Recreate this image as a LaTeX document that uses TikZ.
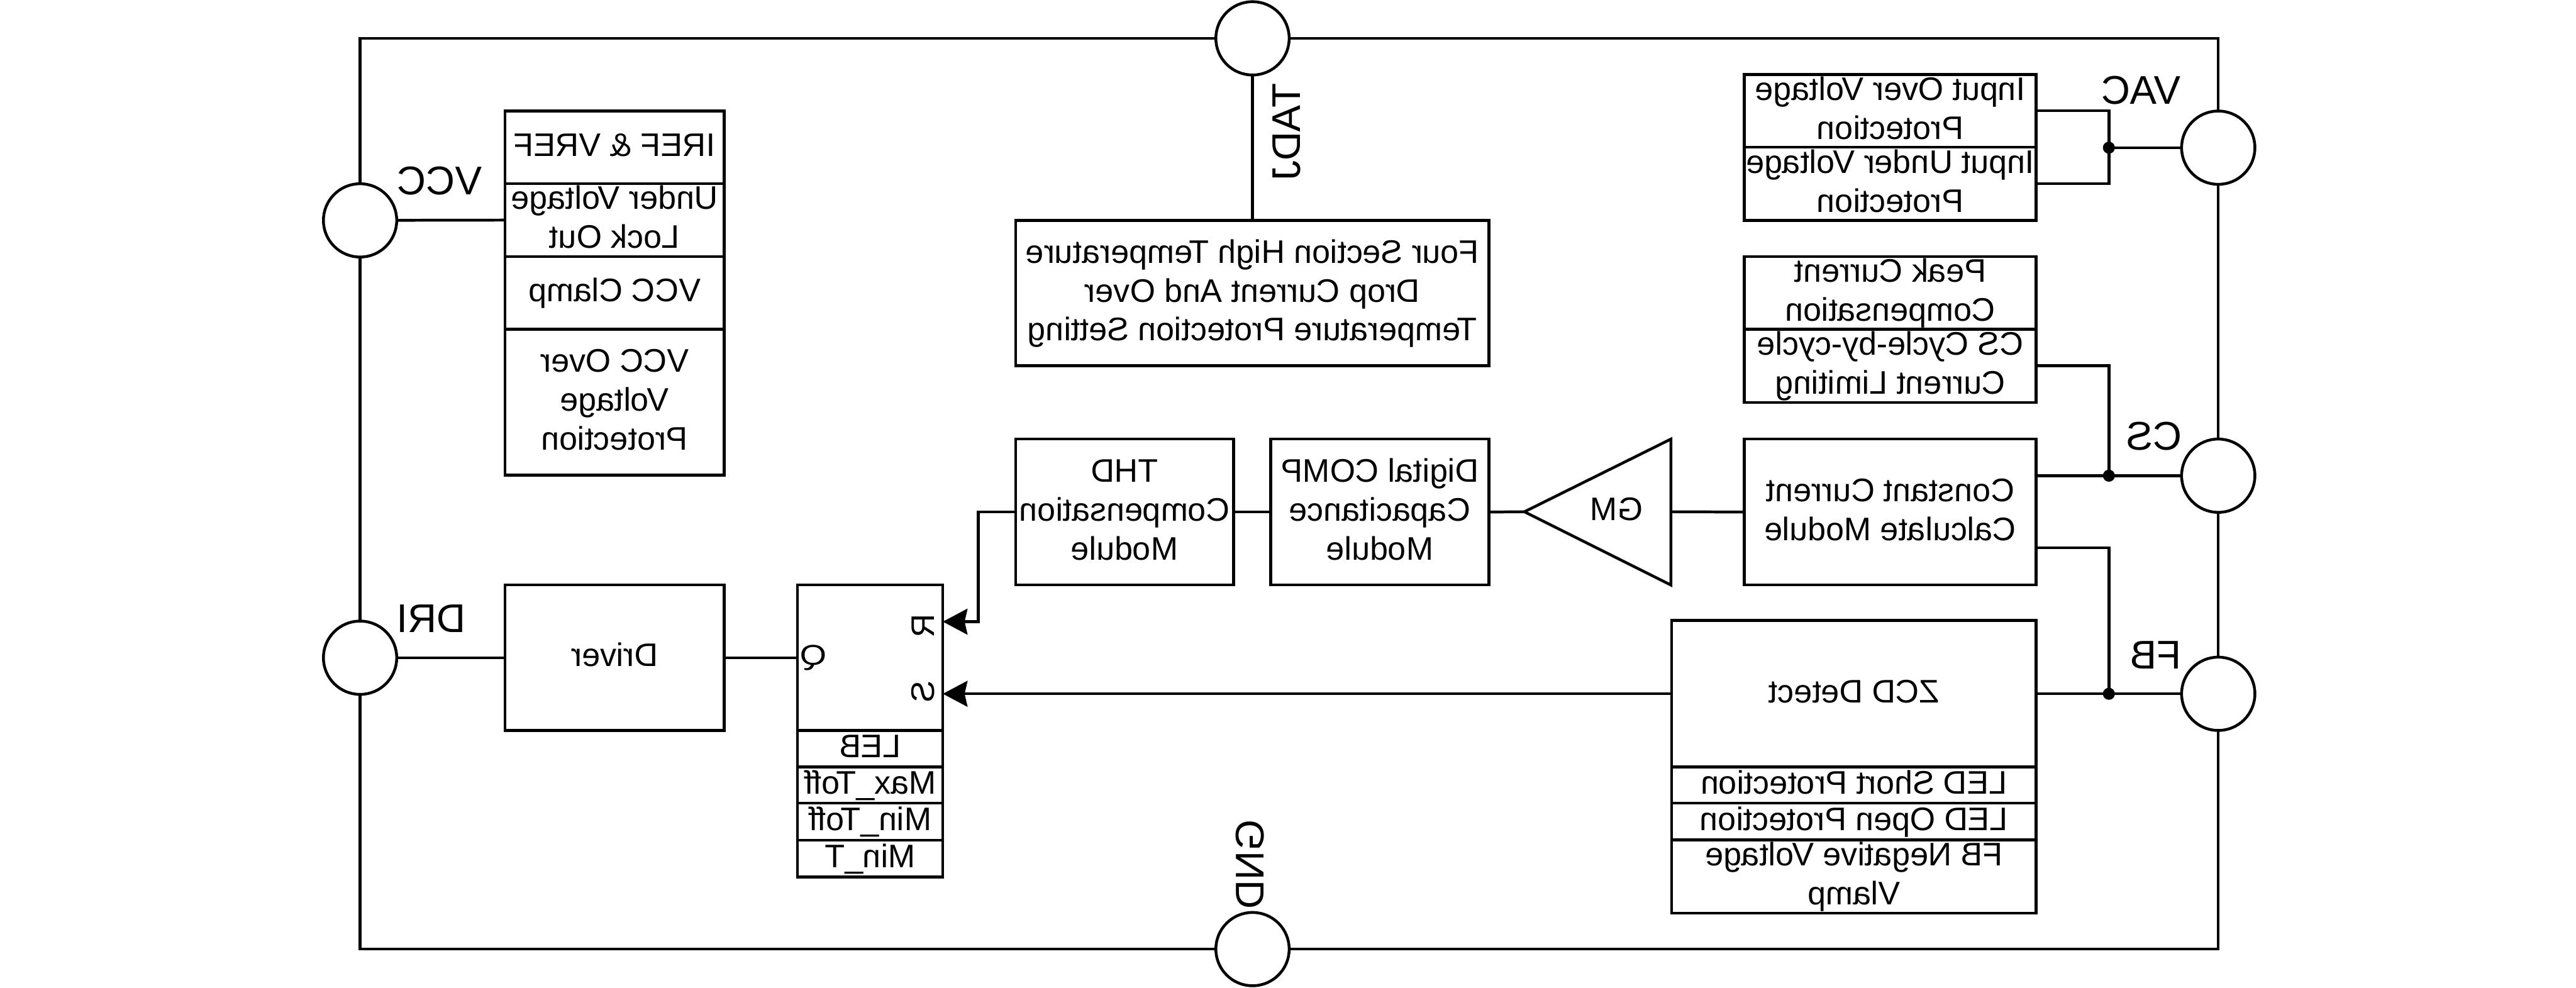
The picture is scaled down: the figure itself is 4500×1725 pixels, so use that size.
\documentclass[tikz,border=0pt]{standalone}
\usepackage{fontspec}
\usepackage{graphicx}
\setmainfont{Liberation Sans}
\usetikzlibrary{arrows.meta}
% mirrored multi-line text (the reference prints all text mirrored left-right); zero-height so that a box keeps its set size
\newcommand{\mt}[1]{\vbox to 0pt{\vss\kern1pt\hbox{\scalebox{-1}[1]{\fontsize{16.2}{19.35}\selectfont\begin{tabular}{@{}c@{}}#1\end{tabular}}}\vss}}
\newcommand{\mlab}[1]{\scalebox{-1}[1]{\fontsize{19.9}{23}\selectfont #1}}
\newcommand{\mrot}[1]{\scalebox{-1}[1]{\rotatebox{-90}{\fontsize{19.9}{23}\selectfont #1}}}
\newcommand{\msm}[1]{\scalebox{-1.2}[1]{\fontsize{14.2}{17}\selectfont #1}}
\newcommand{\mrsm}[1]{\scalebox{-1}[1]{\rotatebox{-90}{\fontsize{16.2}{19}\selectfont #1}}}
% name, x1, y1, x2, y2, text
\newcommand{\bx}[6]{\node[blk,minimum width={(#4-#2)*0.01cm},minimum height={(#5-#3)*0.01cm}] (#1) at ({(#2+#4)/2},{(#3+#5)/2}) {#6};}
\tikzset{
  blk/.style={draw=black,rectangle,line width=1.4pt,inner sep=0pt,outer sep=0pt},
  pin/.style={draw=black,fill=white,circle,line width=1.4pt,minimum size=1.28cm,inner sep=0pt,outer sep=0pt},
  wire/.style={draw=black,line width=1.4pt,line join=miter},
  arr/.style={wire,-{Stealth[length=0.43cm,width=0.45cm,inset=0.05cm]}},
  dotj/.style={circle,fill=black,inner sep=0pt,minimum size=0.21cm},
  lab/.style={inner sep=0pt,outer sep=0pt}
}
\begin{document}
\begin{tikzpicture}[x=0.01cm,y=-0.01cm]
\path[use as bounding box,fill=white] (0,0) rectangle (4500,1725);
% package outline
\bx{frame}{629}{67}{3875}{1658}{}
% left stack
\bx{iref}{882}{194}{1265}{321}{\mt{IREF \& VREF}}
\bx{uvlo}{882}{321}{1265}{448}{\mt{Under Voltage\\Lock Out}}
\bx{clamp}{882}{448}{1265}{575}{\mt{VCC Clamp}}
\bx{ovp}{882}{575}{1265}{830}{\mt{VCC Over\\Voltage\\Protection}}
% top middle
\bx{temp}{1774}{385}{2601}{639}{\mt{Four Section High Temperature\\Drop Current And Over\\Temperature Protection Setting}}
% top right
\bx{iov}{3047}{130}{3557}{257}{\mt{Input Over Voltage\\Protection}}
\bx{iuv}{3047}{257}{3557}{385}{\mt{Input Under Voltage\\Protection}}
\bx{peak}{3047}{448}{3557}{575}{\mt{Peak Current\\Compensation}}
\bx{cyc}{3047}{575}{3557}{703}{\mt{CS Cycle-by-cycle\\Current Limiting}}
% middle row
\bx{thd}{1774}{767}{2155}{1022}{\mt{THD\\Compensation\\Module}}
\bx{comp}{2220}{767}{2601}{1022}{\mt{Digital COMP\\Capacitance\\Module}}
\bx{cc}{3047}{767}{3557}{1022}{\mt{Constant Current\\Calculate Module}}
\coordinate (gmtip) at (2663,894);
\coordinate (gmtop) at (2919,767);
\coordinate (gmbot) at (2919,1022);
\coordinate (gmbase) at (2919,894);
\draw[wire] (gmtip) -- (gmtop) -- (gmbot) -- cycle;
\node[lab] (gm) at (2824,894) {\mt{GM}};
% driver and latch
\bx{drv}{882}{1022}{1265}{1276}{\mt{Driver}}
\bx{sr}{1393}{1022}{1647}{1276}{}
\bx{leb}{1393}{1276}{1647}{1340}{\mt{LEB}}
\bx{maxt}{1393}{1340}{1647}{1403}{\mt{Max\_Toff}}
\bx{mint}{1393}{1403}{1647}{1468}{\mt{Min\_Toff}}
\bx{minT}{1393}{1468}{1647}{1532}{\mt{Min\_T}}
\node[lab] (qq) at (1421,1149) {\msm{Q}};
\node[lab] (rr) at (1612,1093) {\mrsm{R}};
\node[lab] (ss) at (1612,1208) {\mrsm{S}};
% ZCD
\bx{zcd}{2920}{1084}{3557}{1340}{\mt{ZCD Detect}}
\bx{short}{2920}{1340}{3557}{1403}{\mt{LED Short Protection}}
\bx{open}{2920}{1403}{3557}{1467}{\mt{LED Open Protection}}
\bx{neg}{2920}{1467}{3557}{1595}{\mt{FB Negative Voltage\\Vlamp}}
% pins
\node[pin] (tadj) at (2188,67) {};
\node[pin] (gnd) at (2188,1658) {};
\node[pin] (vcc) at (629,385) {};
\node[pin] (dri) at (629,1149) {};
\node[pin] (vac) at (3875,258) {};
\node[pin] (csp) at (3875,831) {};
\node[pin] (fbp) at (3875,1212) {};
% pin labels
\node[lab] (tvcc) at (768,316) {\mlab{VCC}};
\node[lab] (tdri) at (753,1081) {\mlab{DRI}};
\node[lab] (tvac) at (3740,158) {\mlab{VAC}};
\node[lab] (tcs) at (3763,762) {\mlab{CS}};
\node[lab] (tfb) at (3766,1144) {\mlab{FB}};
\node[lab] (ttadj) at (2248,231) {\mrot{TADJ}};
\node[lab] (tgnd) at (2184,1510) {\mrot{GND}};
% connectors
\coordinate (jvac) at (3684,258);
\coordinate (jcs) at (3684,831);
\coordinate (jfb) at (3684,1212);
\coordinate (ccA) at (3557,831);
\coordinate (ccB) at (3557,957);
\coordinate (rBend) at (1709,1086);
\coordinate (rIn) at (1647,1086);
\coordinate (sIn) at (1647,1212);
\draw[wire] (vcc) -- (uvlo.west);
\draw[wire] (dri) -- (drv.west);
\draw[wire] (drv.east) -- (sr.west);
\draw[wire] (tadj) -- (temp.north -| tadj);
\draw[wire] (iov.east) -| (jvac) |- (iuv.east);
\draw[wire] (jvac) -- (vac);
\draw[wire] (cyc.east) -| (jcs);
\draw[wire] (ccA) -- (jcs) -- (csp);
\draw[wire] (ccB) -| (jfb);
\draw[wire] (zcd.east) -- (jfb) -- (fbp);
\draw[wire] (cc.west) -- (gmbase);
\draw[wire] (gmtip) -- (comp.east);
\draw[wire] (comp.west) -- (thd.east);
\draw[arr] (thd.west) -| (rBend) -- (rIn);
\draw[arr] (zcd.west) -- (sIn);
\node[dotj] at (jvac) {};
\node[dotj] at (jcs) {};
\node[dotj] at (jfb) {};
\end{tikzpicture}
\end{document}
